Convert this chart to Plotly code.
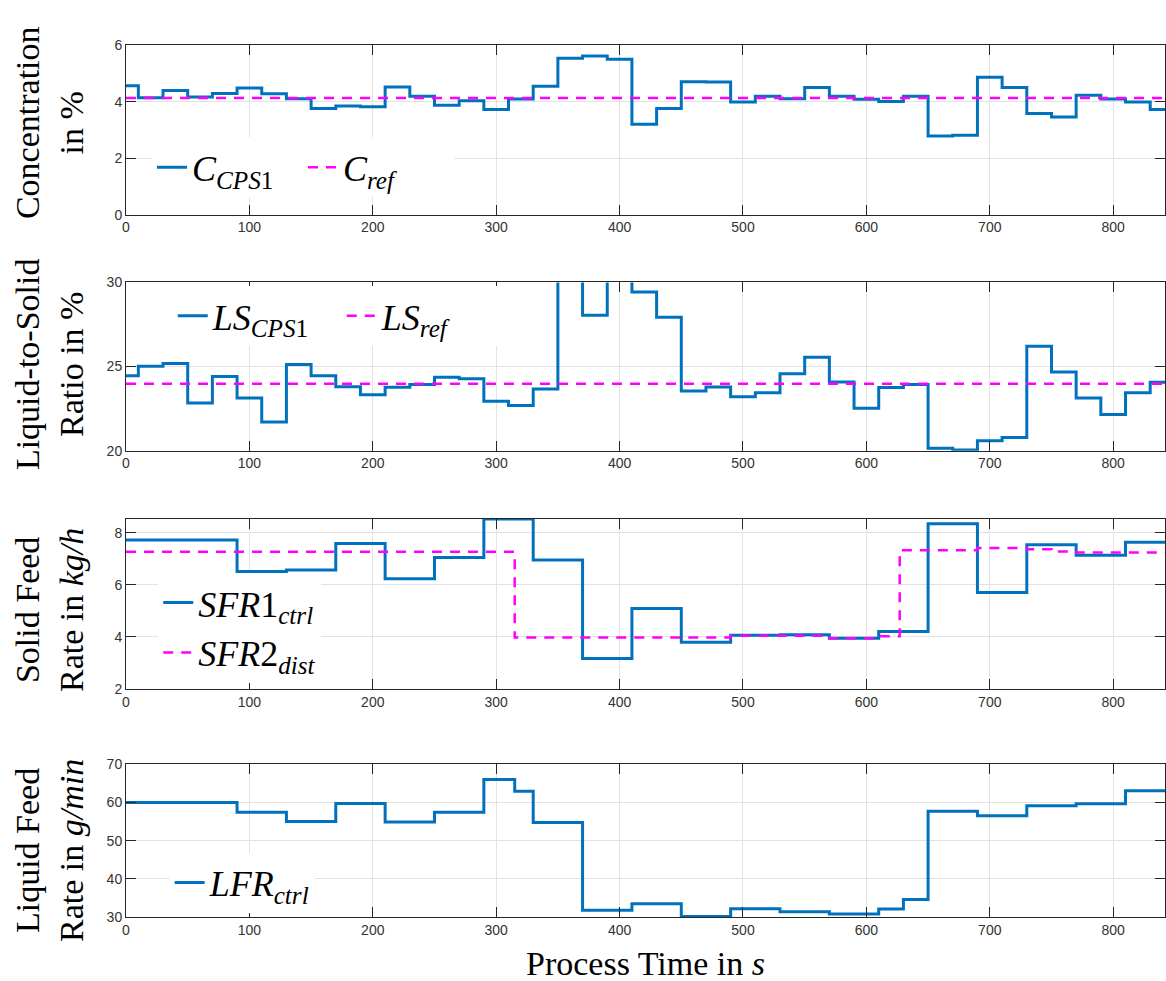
import plotly.graph_objects as go

# ---------------- data ----------------
T_END = 850

# Concentration (control interval 20 s)
t_conc = [0, 10, 30, 50, 70, 90, 110, 130, 150, 170, 190, 210, 230, 250, 270, 290, 310, 330,
          350, 370, 390, 410, 430, 450, 470, 490, 510, 530, 550, 570, 590, 610, 630, 650,
          670, 690, 710, 730, 750, 770, 790, 810, 830]
c_cps1 = [4.57, 4.14, 4.40, 4.17, 4.29, 4.49, 4.28, 4.11, 3.76, 3.85, 3.82, 4.52, 4.20, 3.88,
          4.04, 3.73, 4.10, 4.55, 5.54, 5.62, 5.51, 3.20, 3.76, 4.71, 4.70, 3.99, 4.20, 4.11,
          4.51, 4.20, 4.09, 4.01, 4.20, 2.79, 2.81, 4.87, 4.51, 3.58, 3.46, 4.23, 4.10, 3.99, 3.73]
c_ref = 4.13

# Liquid-to-solid ratio
t_ls = t_conc
ls_cps1 = [24.45, 25.02, 25.18, 22.83, 24.41, 23.13, 21.70, 25.12, 24.45, 23.80, 23.32, 23.77,
           23.93, 24.36, 24.28, 22.93, 22.68, 23.67, 32.5, 28.05, 31.0, 29.43, 27.93, 23.55,
           23.79, 23.20, 23.44, 24.57, 25.55, 24.08, 22.52, 23.75, 23.93, 20.14, 20.04, 20.59,
           20.78, 26.21, 24.67, 23.13, 22.15, 23.44, 24.06]
ls_ref = 23.98

# Solid feed rates
t_sfr1 = [0, 90, 130, 170, 210, 250, 290, 330, 370, 410, 450, 490, 530, 570, 610, 650, 690,
          730, 770, 810]
sfr1_ctrl = [7.73, 6.51, 6.57, 7.59, 6.23, 7.05, 8.53, 6.96, 3.16, 5.09, 3.79, 4.06, 4.08,
             3.94, 4.20, 8.35, 5.70, 7.54, 7.14, 7.64]
t_sfr2 = [0, 315, 490, 570, 610, 627, 690, 730, 750, 770]
sfr2_dist = [7.27, 3.97, 4.04, 3.94, 4.02, 7.33, 7.42, 7.37, 7.28, 7.24]

# Liquid feed rate
t_lfr = [0, 90, 130, 170, 210, 250, 290, 315, 330, 370, 410, 450, 490, 530, 570, 610, 630,
         650, 690, 730, 770, 810]
lfr_ctrl = [60.04, 57.47, 55.06, 59.79, 54.89, 57.47, 66.05, 62.96, 54.8, 31.72, 33.43, 30.1,
            32.15, 31.37, 30.77, 32.06, 34.55, 57.73, 56.52, 59.18, 59.70, 63.13]

# ---------------- styling ----------------
BLUE = "#0072BD"
MAG = "#FF00FF"
SERIF = "Liberation Serif, Times New Roman, serif"
SANS = "Liberation Sans, Arial, sans-serif"
DASH = "10px,8px"


def stairs(t, v):
    return list(t) + [T_END], list(v) + [v[-1]]


fig = go.Figure()

x, y = stairs(t_conc, c_cps1)
fig.add_trace(go.Scatter(x=x, y=y, mode="lines", line_shape="hv",
                         line=dict(color=BLUE, width=3),
                         name="<i>C</i><sub><i>CPS</i>1</sub>", legend="legend",
                         xaxis="x", yaxis="y"))
fig.add_trace(go.Scatter(x=[0, T_END], y=[c_ref, c_ref], mode="lines",
                         line=dict(color=MAG, width=2.5, dash=DASH),
                         name="<i>C</i><sub><i>ref</i></sub>", legend="legend",
                         xaxis="x", yaxis="y"))

x, y = stairs(t_ls, ls_cps1)
fig.add_trace(go.Scatter(x=x, y=y, mode="lines", line_shape="hv",
                         line=dict(color=BLUE, width=3),
                         name="<i>LS</i><sub><i>CPS</i>1</sub>", legend="legend2",
                         xaxis="x2", yaxis="y2"))
fig.add_trace(go.Scatter(x=[0, T_END], y=[ls_ref, ls_ref], mode="lines",
                         line=dict(color=MAG, width=2.5, dash=DASH),
                         name="<i>LS</i><sub><i>ref</i></sub>", legend="legend2",
                         xaxis="x2", yaxis="y2"))

x, y = stairs(t_sfr1, sfr1_ctrl)
fig.add_trace(go.Scatter(x=x, y=y, mode="lines", line_shape="hv",
                         line=dict(color=BLUE, width=3),
                         name="<i>SFR</i>1<sub><i>ctrl</i></sub>", legend="legend3",
                         xaxis="x3", yaxis="y3"))
x, y = stairs(t_sfr2, sfr2_dist)
fig.add_trace(go.Scatter(x=x, y=y, mode="lines", line_shape="hv",
                         line=dict(color=MAG, width=2.5, dash=DASH),
                         name="<i>SFR</i>2<sub><i>dist</i></sub>", legend="legend3",
                         xaxis="x3", yaxis="y3"))

x, y = stairs(t_lfr, lfr_ctrl)
fig.add_trace(go.Scatter(x=x, y=y, mode="lines", line_shape="hv",
                         line=dict(color=BLUE, width=3),
                         name="<i>LFR</i><sub><i>ctrl</i></sub>", legend="legend4",
                         xaxis="x4", yaxis="y4"))

axis_common = dict(showline=True, linecolor="#262626", linewidth=1, mirror="ticks",
                   ticks="inside", ticklen=10, tickwidth=1, tickcolor="#262626",
                   showgrid=True, gridcolor="#e2e2e2", gridwidth=1, zeroline=False,
                   tickfont=dict(family=SANS, size=14, color="#333333"))

domains = [[0.7859, 0.9613], [0.5413, 0.7156], [0.2946, 0.4709], [0.0581, 0.2161]]
yranges = [[0, 6], [20, 30], [2, 8.55], [30, 70]]
ytickvals = [[0, 2, 4, 6], [20, 25, 30], [2, 4, 6, 8], [30, 40, 50, 60, 70]]

layout = dict(
    width=1166, height=981,
    margin=dict(l=126, r=0, t=0, b=0),
    paper_bgcolor="white", plot_bgcolor="white",
    showlegend=True,
)
for i in range(4):
    sx = "" if i == 0 else str(i + 1)
    layout["xaxis" + sx] = dict(axis_common, domain=[0, 1], range=[0, 842], dtick=100,
                                anchor="y" + sx)
    layout["yaxis" + sx] = dict(axis_common, domain=domains[i], range=yranges[i],
                                tickvals=ytickvals[i], anchor="x" + sx)

leg_common = dict(bgcolor="white", borderwidth=0, font=dict(family=SERIF, size=36, color="black"),
                  xanchor="left", yanchor="middle", itemwidth=30, tracegroupgap=0)
layout["legend"] = dict(leg_common, x=0.025, y=1 - 162 / 981, orientation="h",
                        entrywidth=106, entrywidthmode="pixels")
layout["legend2"] = dict(leg_common, x=0.045, y=1 - 313 / 981, orientation="h",
                         entrywidth=124, entrywidthmode="pixels")
layout["legend3"] = dict(leg_common, x=0.031, y=1 - 630 / 981, orientation="v")
layout["legend4"] = dict(leg_common, x=0.042, y=1 - 889 / 981, orientation="v")

fig.update_layout(**layout)

ytitles = ["Concentration<br>in %", "Liquid-to-Solid<br>Ratio in %",
           "Solid Feed<br>Rate in <i>kg/h</i>", "Liquid Feed<br>Rate in <i>g/min</i>"]
ycenters = [117, 362, 612, 857]
for txt, yc in zip(ytitles, ycenters):
    fig.add_annotation(text=txt, xref="paper", yref="paper", x=0, y=1 - yc / 981,
                       xshift=-77, xanchor="center", yanchor="middle", textangle=-90,
                       showarrow=False, font=dict(family=SERIF, size=34, color="black"))

fig.add_annotation(text="Process Time in <i>s</i>", xref="paper", yref="paper",
                   x=0.5, y=1 - 971 / 981, xanchor="center", yanchor="middle",
                   showarrow=False, font=dict(family=SERIF, size=34, color="black"))

fig.write_html("out.html")
